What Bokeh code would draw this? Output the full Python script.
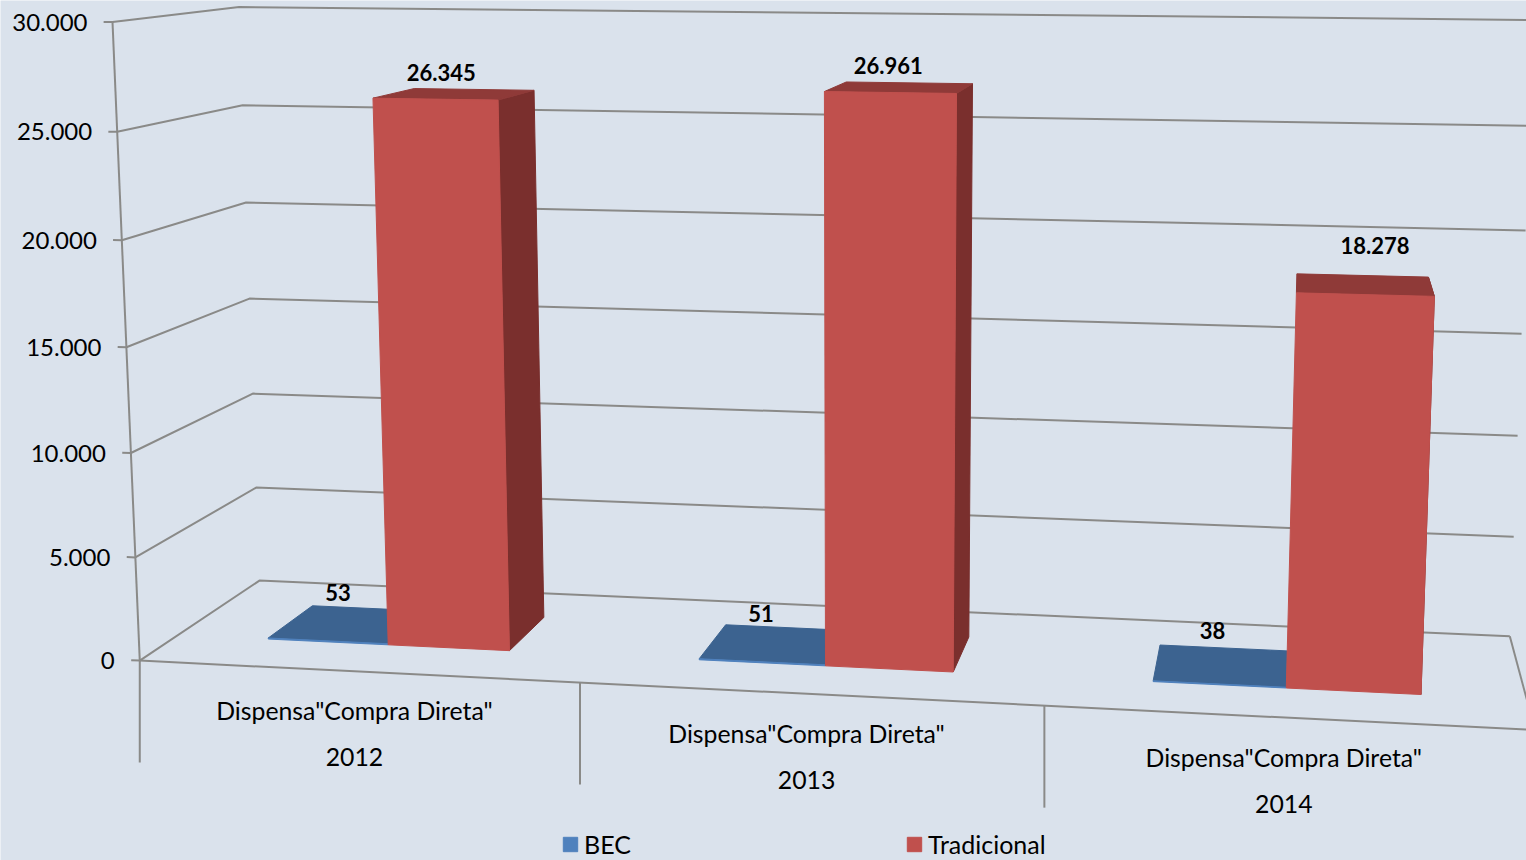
import numpy as np
from bokeh.plotting import figure
from bokeh.models import Range1d, Legend, LegendItem
from bokeh.core.properties import value
from bokeh.embed import file_html
from bokeh.resources import INLINE

years = ["2012", "2013", "2014"]
category = 'Dispensa"Compra Direta"'
bec = [53, 51, 38]
tradicional = [26345, 26961, 18278]
value_ticks = [0, 5000, 10000, 15000, 20000, 25000, 30000]
value_max = 30000

BG = "#DAE2EC"
GRID = "#8A8A88"
FONT = "Lato"

# bar footprint in category / depth units
BEC_U = (0.215, 0.4985)
TRA_U = (0.4985, 0.781)
D0, D1 = 0.30, 0.70

# camera calibration: (category position, depth, value) -> screen pixel
calib = [
    (0, 0, 0, 140, 659), (0, 0, 5000, 135, 556), (0, 0, 10000, 130, 452),
    (0, 0, 15000, 125.5, 347), (0, 0, 20000, 121, 240), (0, 0, 25000, 116.5, 132),
    (0, 0, 30000, 111, 23),
    (0, 1, 0, 260, 580), (0, 1, 5000, 256, 488), (0, 1, 10000, 252, 394),
    (0, 1, 15000, 248, 298), (0, 1, 20000, 245, 202), (0, 1, 25000, 241, 105),
    (0, 1, 30000, 238, 6),
    (1, 0, 0, 578, 681), (2, 0, 0, 1041, 705), (3, 0, 0, 1533, 731),
    (3, 1, 0, 1511, 637), (3, 1, 30000, 1527, 18), (3, 1, 15000, 1518, 331),
    (0.495, 0.3, 26345, 373, 98), (0.785, 0.3, 26345, 499, 99),
    (1.495, 0.3, 26961, 824, 91), (1.785, 0.3, 26961, 957, 93),
    (2.495, 0.3, 18278, 1297, 293), (2.785, 0.3, 18278, 1437, 296),
    (0.495, 0.3, 0, 387, 644), (0.785, 0.3, 0, 510, 650),
    (1.495, 0.3, 0, 825, 665), (1.785, 0.3, 0, 953, 672),
    (2.495, 0.3, 0, 1286, 688), (2.785, 0.3, 0, 1422, 694),
    (0.495, 0.7, 26345, 413, 88), (0.785, 0.7, 26345, 535, 90),
    (1.495, 0.7, 26961, 846, 82), (1.785, 0.7, 26961, 975, 83),
    (2.495, 0.7, 18278, 1299, 274), (2.785, 0.7, 18278, 1433, 276),
    (0.785, 0.7, 0, 545, 617), (1.785, 0.7, 0, 970, 638),
    (0.215, 0.3, 0, 268, 638), (0.215, 0.7, 0, 313, 606),
    (1.215, 0.3, 0, 697, 658), (1.215, 0.7, 0, 725, 625),
    (2.215, 0.3, 0, 1151, 681), (2.215, 0.7, 0, 1160, 646),
]
rows = []
for u, d, v, sx, sy in calib:
    w = v / value_max
    rows.append([u, d, w, 1, 0, 0, 0, 0, -sx * u, -sx * d, -sx * w, -sx])
    rows.append([0, 0, 0, 0, u, d, w, 1, -sy * u, -sy * d, -sy * w, -sy])
P = np.linalg.svd(np.array(rows, float))[2][-1].reshape(3, 4)


def proj(u, d, v):
    h = P @ np.array([u, d, v / value_max, 1.0])
    return float(h[0] / h[2]), float(h[1] / h[2])


def poly(pts):
    q = [proj(*a) for a in pts]
    return [a[0] for a in q], [a[1] for a in q]


p = figure(width=1526, height=860, x_range=Range1d(0, 1526), y_range=Range1d(860, 0),
           output_backend="svg", toolbar_location=None, min_border=0,
           background_fill_color=BG, border_fill_color=BG, outline_line_color=None)
p.xaxis.visible = False
p.yaxis.visible = False
p.grid.visible = False

# walls and floor
gx, gy = [], []
for v in value_ticks:
    x, y = poly([(-0.02, 0, v), (0, 0, v), (0, 1, v), (3, 1, v)])
    gx.append(x)
    gy.append(y)
for pts in ([(0, 0, 0), (0, 0, value_max)], [(0, 0, 0), (3, 0, 0)], [(3, 1, 0), (3, 0, 0)]):
    x, y = poly(pts)
    gx.append(x)
    gy.append(y)
for i in range(3):
    x0, y0 = proj(i, 0, 0)
    gx.append([x0, x0])
    gy.append([y0, y0 + 102])
p.multi_line(gx, gy, line_color=GRID, line_width=2)


def box(i, span, v):
    a, b = i + span[0], i + span[1]
    front = poly([(a, D0, 0), (b, D0, 0), (b, D0, v), (a, D0, v)])
    top = poly([(a, D0, v), (b, D0, v), (b, D1, v), (a, D1, v)])
    side = poly([(b, D0, 0), (b, D1, 0), (b, D1, v), (b, D0, v)])
    return front, top, side


def faces(vals, span):
    out = [box(i, span, v) for i, v in enumerate(vals)]
    return [[[f[k][c] for f in out] for c in (0, 1)] for k in range(3)]


f, t, s = faces(bec, BEC_U)
p.patches(t[0], t[1], fill_color="#3C6390", line_color="#3C6390", line_width=1)
bec_front = p.patches(f[0], f[1], fill_color="#4F81BD", line_color="#4F81BD", line_width=1)

f, t, s = faces(tradicional, TRA_U)
p.patches(s[0], s[1], fill_color="#7A2F2D", line_color="#7A2F2D", line_width=1)
p.patches(t[0], t[1], fill_color="#8F3A38", line_color="#8F3A38", line_width=1)
tra_front = p.patches(f[0], f[1], fill_color="#C0504D", line_color="#C0504D", line_width=1)


def fmt(v):
    return f"{v:,}".replace(",", ".")


# value axis labels
tx, ty = zip(*[proj(0, 0, v) for v in value_ticks])
p.text([a - 25 for a in tx], list(ty), text=[fmt(v) for v in value_ticks],
       text_font=value(FONT), text_font_size="24px", text_color="#000000",
       text_align="right", text_baseline="middle")

# category labels
mid = [proj(i + 0.5, 0, 0) for i in range(3)]
p.text([m[0] - 2.5 for m in mid], [m[1] + 39.5 for m in mid], text=[category] * 3,
       text_font=value(FONT), text_font_size="24.8px", text_color="#000000",
       text_align="center", text_baseline="middle")
p.text([m[0] - 2.5 for m in mid], [m[1] + 86 for m in mid], text=years,
       text_font=value(FONT), text_font_size="24.8px", text_color="#000000",
       text_align="center", text_baseline="middle")

# data labels
tra_off = [(6, -27), (-2, -27), (10, -49)]
bec_off = [(10, -48), (-1, -48), (-7, -54)]
lx, ly, lt = [], [], []
for i in range(3):
    x, y = proj(i + sum(TRA_U) / 2, D0, tradicional[i])
    lx.append(x + tra_off[i][0]); ly.append(y + tra_off[i][1]); lt.append(fmt(tradicional[i]))
    x, y = proj(i + sum(BEC_U) / 2, D0, bec[i])
    lx.append(x + bec_off[i][0]); ly.append(y + bec_off[i][1]); lt.append(fmt(bec[i]))
p.text(lx, ly, text=lt, text_font=value(FONT), text_font_size="22px",
       text_font_style="bold", text_color="#000000",
       text_align="center", text_baseline="middle")

legend = Legend(items=[LegendItem(label="BEC", renderers=[bec_front]),
                       LegendItem(label="Tradicional", renderers=[tra_front])],
                orientation="horizontal", location=(561, 1), spacing=274, padding=0, margin=0,
                glyph_width=18, glyph_height=18, label_standoff=5,
                label_text_font=FONT, label_text_font_size="25px", label_text_color="#000000",
                background_fill_alpha=0, border_line_color=None)
p.add_layout(legend)

open("out.html", "w").write(file_html(p, INLINE))
